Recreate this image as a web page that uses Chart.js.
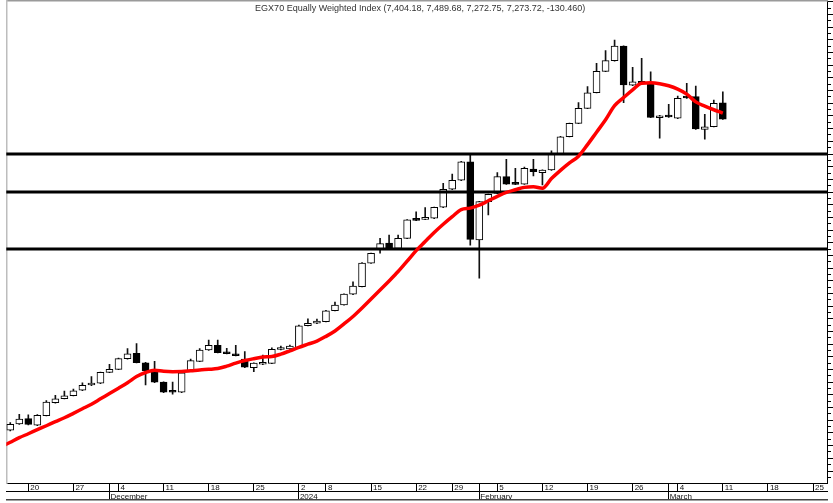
<!DOCTYPE html>
<html>
<head>
<meta charset="utf-8">
<script src="https://cdn.jsdelivr.net/npm/chart.js@4.4.1/dist/chart.umd.min.js"></script>
<style>html,body{margin:0;padding:0;background:#fff;}canvas{display:block;}</style>
</head>
<body>
<canvas id="c" width="833" height="503"></canvas>
<script>
// trading-day slots on the x axis (Nov 15 is only used by the moving average)
const slots = ['Nov 15','Nov 16','Nov 19','Nov 20','Nov 21','Nov 22','Nov 23','Nov 26','Nov 27','Nov 28','Nov 29','Nov 30',
  'Dec 3','Dec 4','Dec 5','Dec 6','Dec 7','Dec 10','Dec 11','Dec 12','Dec 13','Dec 14','Dec 17','Dec 18','Dec 19','Dec 20','Dec 21',
  'Dec 24','Dec 25','Dec 26','Dec 27','Dec 28','Dec 31','Jan 2','Jan 3','Jan 4','Jan 8','Jan 9','Jan 10','Jan 11','Jan 14','Jan 15',
  'Jan 16','Jan 17','Jan 18','Jan 21','Jan 22','Jan 23','Jan 24','Jan 28','Jan 29','Jan 30','Jan 31','Feb 1','Feb 4','Feb 5','Feb 6',
  'Feb 7','Feb 8','Feb 11','Feb 12','Feb 13','Feb 14','Feb 15','Feb 18','Feb 19','Feb 20','Feb 21','Feb 22','Feb 25','Feb 26','Feb 27',
  'Feb 28','Feb 29','Mar 3','Mar 4','Mar 5','Mar 6','Mar 7','Mar 10','Mar 11','Mar 12','Mar 13','Mar 14','Mar 17','Mar 18','Mar 19',
  'Mar 20','Mar 21','Mar 24','Mar 25','Mar 26'];

const candleFirst = 'Nov 16';
const openV = [4823,4871,4913,4861,4936,5039,5070,5094,5137,5178,
  5192,5278,5302,5386,5428,5354,5283,5202,5126,5121,
  5289,5365,5454,5491,5431,5415,5383,5315,5342,5349,
  5458,5462,5470,5646,5665,5678,5764,5809,5894,5954,
  6140,6253,6298,6256,6335,6482,6485,6493,6580,6722,
  6793,6939,6322,6624,6690,6821,6766,6763,6882,6853,
  6874,7000,7136,7242,7360,7483,7652,7736,7852,7542,
  7570,7550,7286,7297,7282,7447,7452,7194,7215,7404.18];
const highV = [4881,4947,4944,4946,5056,5097,5131,5147,5196,5244,
  5281,5342,5391,5465,5504,5357,5365,5204,5202,5281,
  5383,5465,5533,5533,5468,5491,5441,5354,5415,5472,
  5486,5494,5651,5701,5699,5767,5833,5898,5991,6143,
  6219,6335,6361,6361,6482,6543,6577,6582,6769,6842,
  6942,6992,6627,6684,6853,6958,6887,6897,6958,6876,
  7026,7140,7244,7405,7531,7715,7815,7899,7854,7684,
  7755,7649,7305,7392,7457,7558,7536,7313,7426,7489.68];
const lowV = [4816,4867,4863,4857,4934,5036,5068,5092,5133,5174,
  5189,5275,5299,5383,5352,5178,5196,5117,5107,5117,
  5285,5362,5452,5431,5423,5407,5315,5283,5338,5346,
  5454,5458,5466,5644,5662,5675,5762,5807,5890,5951,
  6138,6217,6255,6253,6332,6474,6482,6490,6576,6718,
  6789,6282,6020,6519,6687,6761,6758,6761,6827,6756,
  6871,6998,7134,7239,7357,7481,7649,7733,7405,7539,
  7554,7286,7124,7289,7278,7439,7194,7116,7213,7272.75];
const closeV = [4868,4910,4868,4939,5044,5070,5092,5133,5176,5192,
  5278,5302,5386,5425,5354,5291,5200,5121,5121,5275,
  5370,5454,5491,5433,5425,5409,5318,5352,5354,5460,
  5474,5486,5644,5665,5683,5764,5809,5896,5959,6140,
  6217,6293,6259,6335,6480,6477,6490,6580,6722,6793,
  6939,6327,6624,6682,6821,6763,6761,6887,6860,6874,
  7000,7136,7242,7360,7483,7652,7736,7852,7544,7570,
  7558,7289,7302,7292,7439,7442,7197,7215,7400,7273.72];

const maFirst = 'Nov 15';
const maV = [4691,
  4727,4763,4794,4826,4857,4889,4920,4955,4991,5027,
  5069,5111,5153,5196,5245,5277,5295,5286,5283,5284,
  5290,5297,5302,5308,5327,5351,5371,5386,5399,5403,
  5422,5448,5475,5500,5525,5562,5604,5660,5719,5786,
  5857,5928,5999,6073,6155,6238,6310,6381,6446,6506,
  6562,6573,6596,6631,6666,6697,6718,6737,6742,6730,
  6806,6871,6930,6983,7074,7172,7270,7381,7445,7506,
  7558,7561,7554,7538,7511,7472,7411,7378,7349,7323];

const levels = [7000, 6700, 6250];

const dayTickDates = ['Nov 20','Nov 27','Dec 4','Dec 11','Dec 18','Dec 25','Jan 2','Jan 8','Jan 15','Jan 22','Jan 29',
  'Feb 5','Feb 12','Feb 19','Feb 26','Mar 4','Mar 11','Mar 18','Mar 25'];
const dayTickLabels = ['20','27','4','11','18','25','2','8','15','22','29','5','12','19','26','4','11','18','25'];
const monthTickDates = ['Dec 3','Jan 2','Feb 1','Mar 3'];
const monthTickLabels = ['December','2024','February','March'];

const titleText = 'EGX70 Equally Weighted Index (7,404.18, 7,489.68, 7,272.75, 7,273.72, -130.460)';

// ---------------------------------------------------------------
const slotOf = d => slots.indexOf(d);
const c0 = slotOf(candleFirst), m0 = slotOf(maFirst);
const XMIN = 0.56, XMAX = 91.55, YMIN = 4405.5, YMAX = 8206.6;

const wickData = lowV.map((l, k) => ({x: c0 + k, y: [l, highV[k]]}));
const bodyData = openV.map((o, k) => ({x: c0 + k, y: [o, closeV[k]]}));
const bodyColors = openV.map((o, k) => closeV[k] < o ? '#000' : '#fff');
const maData = maV.map((v, k) => ({x: m0 + k, y: v}));

const dayTickMap = {};
dayTickDates.forEach((d, k) => dayTickMap[slotOf(d)] = dayTickLabels[k]);
monthTickDates.forEach(d => { const s = slotOf(d); if (!(s in dayTickMap)) dayTickMap[s] = ''; });
const dayTickSlots = Object.keys(dayTickMap).map(Number).sort((a, b) => a - b);
const monthTickMap = {};
monthTickDates.forEach((d, k) => monthTickMap[slotOf(d)] = monthTickLabels[k]);
const monthTickSlots = Object.keys(monthTickMap).map(Number).sort((a, b) => a - b);

const AX = {xAxisID: 'x', yAxisID: 'y'};
const levelSets = levels.map(v => Object.assign({
  type: 'line', data: [{x: XMIN - 1, y: v}, {x: XMAX + 1, y: v}],
  borderColor: '#000', borderWidth: 3, pointRadius: 0, order: 1, clip: 0
}, AX));

const FONT = '"Liberation Sans", Arial, sans-serif';
Chart.defaults.font.family = FONT;

const titlePlugin = {
  id: 'topTitle',
  afterDraw(chart) {
    const a = chart.chartArea, ctx = chart.ctx;
    ctx.save();
    ctx.font = '9px ' + FONT;
    ctx.fillStyle = '#333';
    ctx.textAlign = 'center';
    ctx.textBaseline = 'middle';
    ctx.fillText(titleText, (a.left + a.right) / 2 + 3.5, a.top + 8);
    ctx.restore();
  }
};

const hiddenAxis = (pos, extra) => Object.assign({
  type: 'linear', position: pos, min: 0, max: 1,
  grid: {display: false, drawTicks: false}, ticks: {display: false}
}, extra);

new Chart(document.getElementById('c'), {
  type: 'bar',
  data: {
    datasets: [
      Object.assign({type: 'line', data: maData, borderColor: '#ff0000', borderWidth: 3.5, pointRadius: 0,
       cubicInterpolationMode: 'monotone', order: 0, clip: 0}, AX),
      ...levelSets,
      Object.assign({type: 'bar', data: bodyData, backgroundColor: bodyColors, borderColor: '#000', borderWidth: 1,
       borderSkipped: false, barThickness: 7, grouped: false, minBarLength: 2, order: 2, clip: 0}, AX),
      Object.assign({type: 'bar', data: wickData, backgroundColor: '#111', borderWidth: 0,
       barThickness: 1, grouped: false, order: 3, clip: 0}, AX)
    ]
  },
  options: {
    responsive: false, animation: false, devicePixelRatio: 1, events: [],
    layout: {padding: {left: 6.3, top: 1, right: 0, bottom: 0}},
    plugins: {legend: {display: false}, tooltip: {enabled: false}, title: {display: false}},
    scales: {
      x: {
        type: 'linear', position: 'bottom', weight: 0, min: XMIN, max: XMAX, offset: false, bounds: 'data',
        afterBuildTicks: s => { s.ticks = dayTickSlots.map(v => ({value: v})); },
        afterFit: s => { s.height = 8.5; },
        grid: {drawOnChartArea: false, drawTicks: true, tickLength: 8.5, color: '#000', lineWidth: 1, offset: false},
        border: {display: true, color: '#000', width: 1},
        ticks: {autoSkip: false, maxRotation: 0, align: 'start', labelOffset: 2, padding: -8.5,
          color: '#111', font: {size: 8}, callback: v => dayTickMap[v] ?? ''}
      },
      y: {
        type: 'linear', position: 'right', min: YMIN, max: YMAX, bounds: 'data',
        afterBuildTicks: s => {
          const t = [];
          for (let v = Math.ceil(s.min / 50) * 50; v <= s.max; v += 50) t.push({value: v});
          s.ticks = t;
        },
        afterFit: s => { s.width = 6; },
        grid: {drawOnChartArea: false, drawTicks: true, tickLength: 6, color: '#000', lineWidth: 1,
          tickBorderDash: ctx => (ctx.tick && ctx.tick.value % 100 !== 0) ? [3, 20] : []},
        border: {display: true, color: '#000', width: 1},
        ticks: {display: false}
      },
      x2: {
        type: 'linear', position: 'bottom', weight: 1, min: XMIN, max: XMAX, offset: false, bounds: 'data',
        afterBuildTicks: s => { s.ticks = monthTickSlots.map(v => ({value: v})); },
        afterFit: s => { s.height = 8.5; },
        grid: {drawOnChartArea: false, drawTicks: true, tickLength: 8.5, color: '#000', lineWidth: 1, offset: false},
        border: {display: true, color: '#000', width: 1},
        ticks: {autoSkip: false, maxRotation: 0, align: 'start', labelOffset: 1, padding: -8.5,
          color: '#111', font: {size: 8}, callback: v => monthTickMap[v] ?? ''}
      },
      x3: hiddenAxis('bottom', {weight: 2, afterFit: s => { s.height = 3; },
        border: {display: true, color: '#444', width: 1.5}}),
      xt: hiddenAxis('top', {afterFit: s => { s.height = 0; },
        border: {display: true, color: '#9a9a9a', width: 1.5}}),
      yl: hiddenAxis('left', {afterFit: s => { s.width = 0; },
        border: {display: true, color: '#bdbdbd', width: 1.5}})
    }
  },
  plugins: [titlePlugin]
});
</script>
</body>
</html>
